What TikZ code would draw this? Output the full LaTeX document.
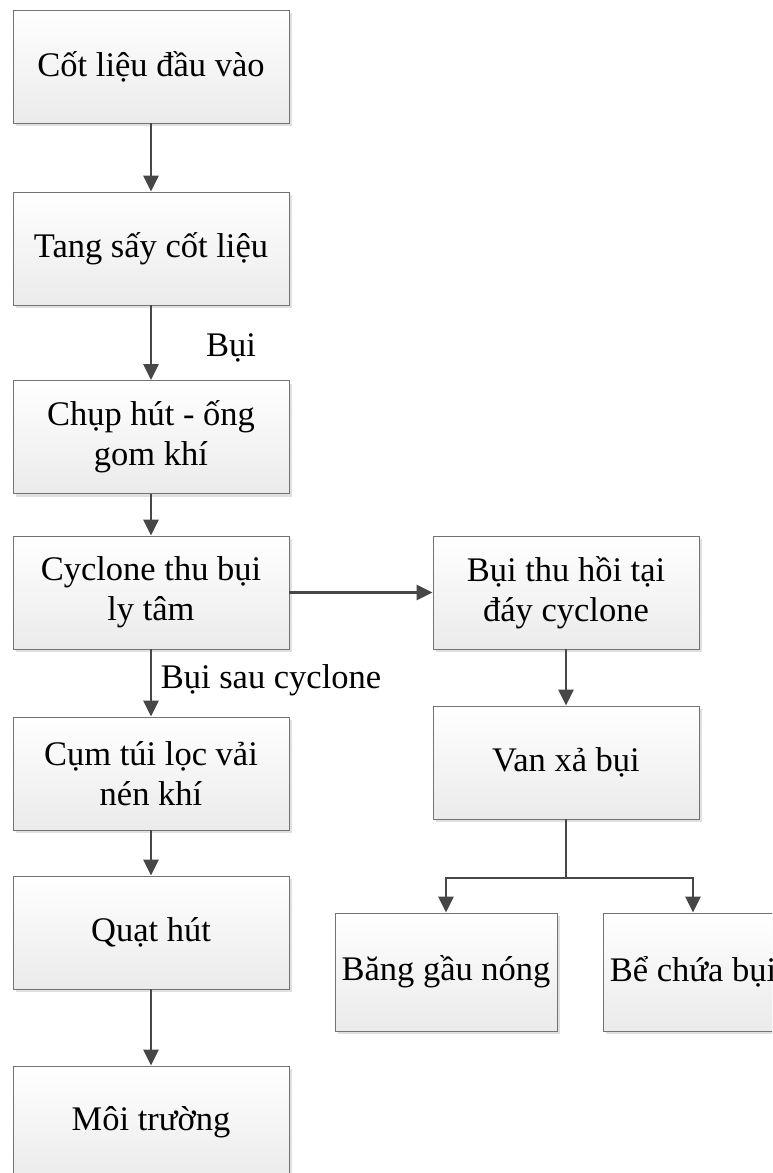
\documentclass[tikz,border=0pt]{standalone}
\usepackage{fontspec}
\setmainfont{Liberation Serif}
\usetikzlibrary{arrows.meta,shadows}
\tikzset{
  box/.style={draw=black!55, line width=0.9pt, top color=white, bottom color=black!8,
    minimum width=276pt, minimum height=113pt, align=center, inner sep=2pt,
    font=\fontsize{34.5}{40}\selectfont,
    drop shadow={shadow xshift=3pt, shadow yshift=-3pt, fill=black!12, opacity=1}},
  wire/.style={line width=2.6pt, draw=black!72},
  flow/.style={wire, -{Triangle[length=16pt,width=15pt]}},
  lbl/.style={font=\fontsize{34.5}{40}\selectfont, inner sep=0pt}
}
\begin{document}
\begin{tikzpicture}[x=1pt,y=-1pt]
  \useasboundingbox (0,0) rectangle (772,1173);
  \clip (0,0) rectangle (772,1173);
  % Main line
  \node[box] (input) at (151,66.5) {Cốt liệu đầu vào};
  \node[box] (dryer) at (151,248.5) {Tang sấy cốt liệu};
  \node[box] (hood) at (151,437) {Chụp hút - ống\\gom khí};
  \node[box] (cyclone) at (151,592.5) {Cyclone thu bụi\\ly tâm};
  \node[box] (bagfilter) at (151,773.5) {Cụm túi lọc vải\\nén khí};
  \node[box] (fan) at (151,932.5) {Quạt hút};
  \node[box] (env) at (151,1122.5) {Môi trường};
  % Dust recovery
  \node[box,minimum width=266pt] (recovered) at (566,592.5) {Bụi thu hồi tại\\đáy cyclone};
  \node[box,minimum width=266pt] (valve) at (566,762.5) {Van xả bụi};
  \node[box,minimum width=222pt,minimum height=118pt] (elevator) at (446,972) {Băng gầu nóng};
  \node[box,minimum width=180pt,minimum height=118pt] (bin) at (693,972) {Bể chứa bụi};
  % Labels
  \node[lbl] (dustlbl) at (231,348) {Bụi};
  \node[lbl] (aftercyc) at (271,680) {Bụi sau cyclone};
  % Flows
  \draw[flow] (input) -- (dryer);
  \draw[flow] (dryer) -- (hood);
  \draw[flow] (hood) -- (cyclone);
  \draw[flow] (cyclone) -- (bagfilter);
  \draw[flow] (bagfilter) -- (fan);
  \draw[flow] (fan) -- (env);
  \draw[flow] (cyclone) -- (recovered);
  \draw[flow] (recovered) -- (valve);
  \coordinate (split) at (566,878);
  \draw[wire] (valve) -- (split);
  \draw[flow] (split) -| (elevator.north);
  \draw[flow] (split) -| (bin.north);
\end{tikzpicture}
\end{document}
